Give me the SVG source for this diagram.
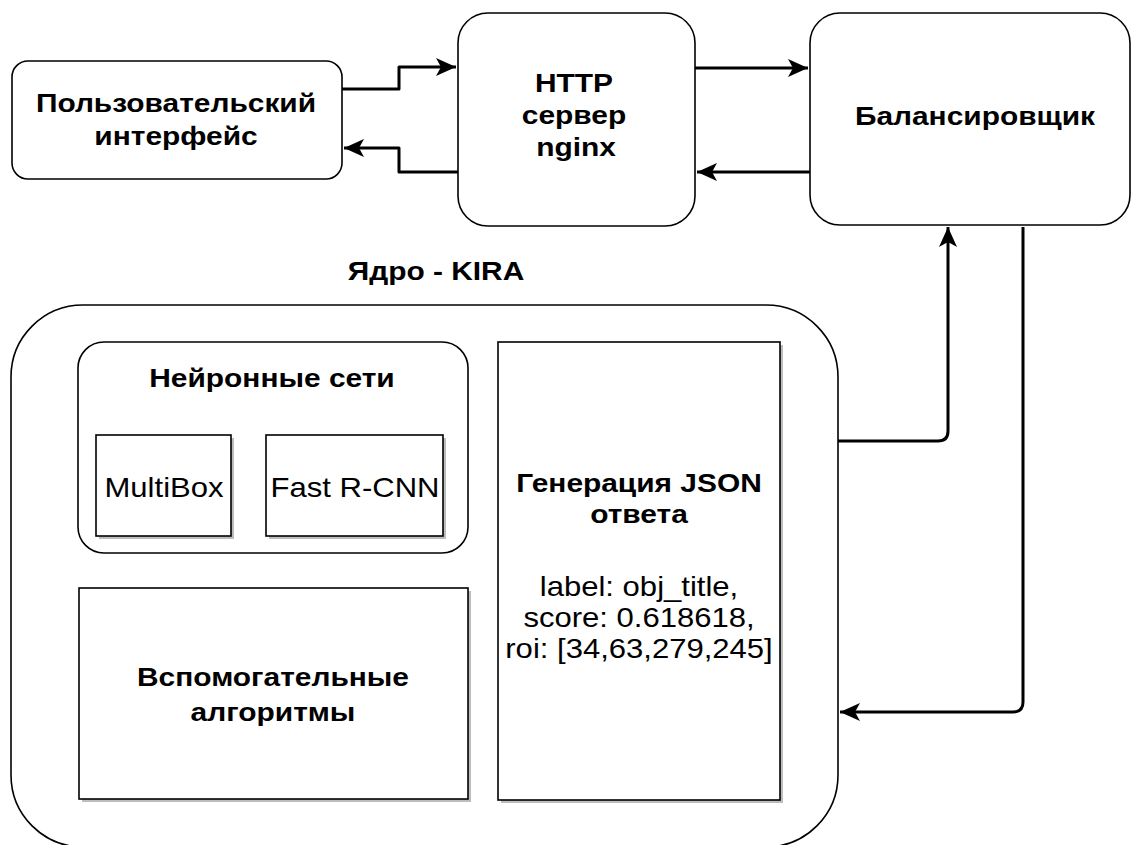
<svg xmlns="http://www.w3.org/2000/svg" width="1131" height="845" viewBox="0 0 1131 845">
  <style>
    .box { fill: #ffffff; stroke: #000000; stroke-width: 1.6; }
    .shadow { fill: #bdbdbd; }
    .wire { fill: none; stroke: #000000; stroke-width: 3; stroke-linejoin: round; }
    .b { font-family: "Liberation Sans", Arial, sans-serif; font-weight: bold; font-size: 26px; fill: #000; text-anchor: middle; }
    .r { font-family: "Liberation Sans", Arial, sans-serif; font-size: 27px; fill: #000; text-anchor: middle; }
  </style>
  <defs>
    <marker id="arrow" markerUnits="userSpaceOnUse" markerWidth="22" markerHeight="18" viewBox="0 0 22 18" refX="20" refY="9" orient="auto">
      <path d="M20,9 L0,0 L5,9 L0,18 Z" fill="#000"/>
    </marker>
  </defs>
  <rect width="1131" height="845" fill="#ffffff"/>

  <!-- connectors -->
  <g id="connectors">
    <path class="wire" d="M342,89 H399 V67 H456" marker-end="url(#arrow)"/>
    <path class="wire" d="M458,172 H399 V148 H344" marker-end="url(#arrow)"/>
    <path class="wire" d="M695,68 H808" marker-end="url(#arrow)"/>
    <path class="wire" d="M810,172 H697" marker-end="url(#arrow)"/>
    <path class="wire" d="M838,441 H938 Q948,441 948,431 V227" marker-end="url(#arrow)"/>
    <path class="wire" d="M1023,227 V702 Q1023,712 1013,712 H840" marker-end="url(#arrow)"/>
  </g>

  <!-- labels are drawn slightly widened (scale 1.15 x) -->
  <g id="ui">
    <rect class="box" x="12" y="61" width="330" height="118" rx="16"/>
    <text class="b" transform="translate(176,112) scale(1.15,1)">Пользовательский</text>
    <text class="b" transform="translate(176,145) scale(1.15,1)">интерфейс</text>
  </g>

  <g id="http">
    <rect class="box" x="458" y="13" width="237" height="213" rx="30"/>
    <text class="b" transform="translate(574,92) scale(1.15,1)">HTTP</text>
    <text class="b" transform="translate(574,124) scale(1.15,1)">сервер</text>
    <text class="b" transform="translate(576,156) scale(1.15,1)">nginx</text>
  </g>

  <g id="balancer">
    <rect class="box" x="810" y="13" width="320" height="212" rx="30"/>
    <text class="b" transform="translate(975,125) scale(1.15,1)">Балансировщик</text>
  </g>

  <g id="core">
    <text class="b" transform="translate(436,280) scale(1.15,1)">Ядро - KIRA</text>
    <rect class="box" x="11" y="305" width="827" height="542" rx="72"/>
  </g>

  <g id="neural">
    <rect class="box" x="78" y="342" width="390" height="211" rx="26"/>
    <text class="b" transform="translate(272,387) scale(1.15,1)">Нейронные сети</text>
  </g>

  <g id="multibox">
    <rect class="shadow" x="99" y="438" width="135" height="101"/>
    <rect class="box" x="96" y="435" width="135" height="101"/>
    <text class="r" transform="translate(164,497) scale(1.15,1)">MultiBox</text>
  </g>

  <g id="fastrcnn">
    <rect class="shadow" x="269" y="438" width="177" height="101"/>
    <rect class="box" x="266" y="435" width="177" height="101"/>
    <text class="r" transform="translate(355,497) scale(1.15,1)">Fast R-CNN</text>
  </g>

  <g id="json">
    <rect class="shadow" x="501" y="345" width="282" height="458"/>
    <rect class="box" x="498" y="342" width="282" height="458"/>
    <text class="b" transform="translate(639,492) scale(1.15,1)">Генерация JSON</text>
    <text class="b" transform="translate(639,523) scale(1.15,1)">ответа</text>
    <text class="r" transform="translate(639,596) scale(1.15,1)">label: obj_title,</text>
    <text class="r" transform="translate(639,627) scale(1.15,1)">score: 0.618618,</text>
    <text class="r" transform="translate(639,658) scale(1.15,1)">roi: [34,63,279,245]</text>
  </g>

  <g id="helpers">
    <rect class="shadow" x="82" y="591" width="389" height="211"/>
    <rect class="box" x="79" y="588" width="389" height="211"/>
    <text class="b" transform="translate(273,686) scale(1.15,1)">Вспомогательные</text>
    <text class="b" transform="translate(273,721) scale(1.15,1)">алгоритмы</text>
  </g>
</svg>
